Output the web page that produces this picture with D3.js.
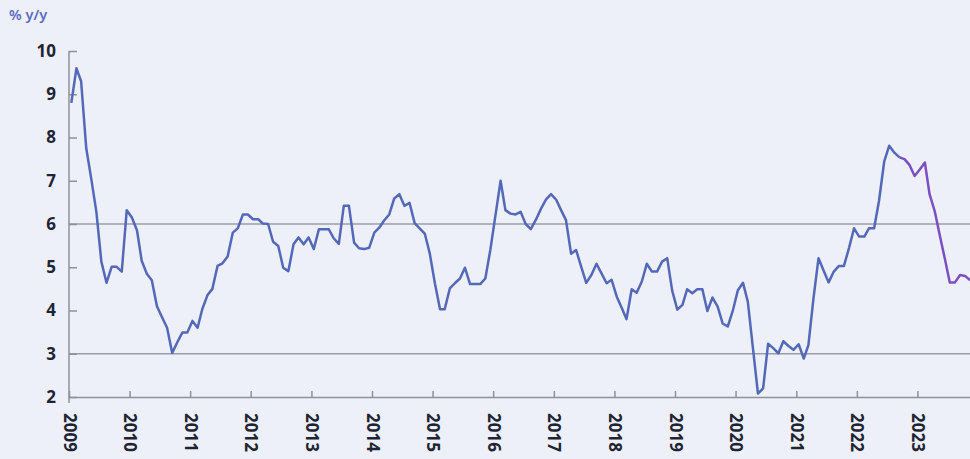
<!DOCTYPE html>
<html>
<head>
<meta charset="utf-8">
<script src="https://cdn.jsdelivr.net/npm/d3@7"></script>
<style>
  body { margin: 0; background: #edf0f8; }
  svg { display: block; }
  .tick text { font-family: "Noto Sans", sans-serif; font-weight: 700; font-size: 17px; fill: #1e2433; }
</style>
</head>
<body>
<svg id="chart" width="970" height="459"></svg>
<script>
// monthly % y/y, Jan 2009 .. Sep 2022 (actual)
const actual = [
  8.8, 9.6, 9.3, 7.75, 7.05, 6.28, 5.13, 4.64, 5.01, 5.01, 4.9, 6.32,
  6.15, 5.85, 5.15, 4.85, 4.7, 4.1, 3.85, 3.6, 3.02, 3.26, 3.49, 3.49,
  3.76, 3.6, 4.03, 4.35, 4.5, 5.03, 5.09, 5.25, 5.8, 5.9, 6.22, 6.22,
  6.11, 6.11, 6.01, 6.0, 5.59, 5.49, 4.99, 4.91, 5.53, 5.69, 5.53, 5.69,
  5.42, 5.88, 5.88, 5.88, 5.67, 5.54, 6.42, 6.42, 5.57, 5.44, 5.42, 5.45,
  5.8, 5.92, 6.08, 6.22, 6.59, 6.69, 6.42, 6.49, 6.02, 5.9, 5.78, 5.32,
  4.63, 4.03, 4.03, 4.51, 4.63, 4.74, 4.99, 4.61, 4.61, 4.61, 4.74, 5.4,
  6.2, 7.0, 6.32, 6.24, 6.22, 6.28, 6.0, 5.88, 6.1, 6.35, 6.57, 6.69,
  6.56, 6.31, 6.09, 5.31, 5.4, 5.01, 4.64, 4.82, 5.08, 4.86, 4.63, 4.71,
  4.32, 4.05, 3.8, 4.49, 4.41, 4.67, 5.08, 4.9, 4.9, 5.13, 5.21, 4.46,
  4.02, 4.13, 4.49, 4.4, 4.49, 4.49, 3.99, 4.3, 4.09, 3.7, 3.63, 3.99,
  4.47, 4.64, 4.2, 3.12, 2.08, 2.2, 3.23, 3.13, 3.01, 3.29, 3.18, 3.09,
  3.22, 2.89, 3.2, 4.3, 5.21, 4.92, 4.65, 4.9, 5.03, 5.03, 5.45, 5.9,
  5.71, 5.71, 5.9, 5.9, 6.55, 7.45, 7.81, 7.65, 7.54
];
// Sep 2022 .. Nov 2023
const forecast = [7.54, 7.5, 7.36, 7.11, 7.26, 7.42, 6.69, 6.3, 5.75, 5.2, 4.65, 4.65, 4.82, 4.8, 4.7];
const forecastStart = actual.length - 1;

const years = d3.range(2009, 2024);
const yTicks = [2, 3, 4, 5, 6, 7, 8, 9, 10];
const gridValues = [3, 6];

const svg = d3.select("#chart");
const plotLeft = 69, plotRight = 978, plotTop = 51, plotBottom = 397;

const x = d3.scaleUtc()
  .domain([Date.UTC(2009, 0, 1), Date.UTC(2024, 0, 1)])
  .range([plotLeft, plotRight]);
const y = d3.scaleLinear().domain([2, 10]).range([plotBottom, plotTop]);

const monthDate = i => Date.UTC(2009, i, 15);

// title
svg.append("text")
  .attr("x", 9).attr("y", 20)
  .attr("font-family", "Noto Sans, sans-serif")
  .attr("font-size", 14.5).attr("font-weight", 600)
  .attr("fill", "#5b6cc0")
  .text("% y/y");

// grid lines
svg.append("g").selectAll("line")
  .data(gridValues)
  .enter().append("line")
  .attr("x1", plotLeft).attr("x2", 970)
  .attr("y1", d => y(d)).attr("y2", d => y(d))
  .attr("stroke", "#9a9ca7").attr("stroke-width", 1.5);

// y axis
const yAxis = svg.append("g")
  .attr("transform", "translate(" + plotLeft + ",0)")
  .call(d3.axisLeft(y).tickValues(yTicks).tickSizeInner(-8).tickSizeOuter(0).tickPadding(13));
yAxis.select(".domain").remove();
yAxis.selectAll(".tick line").attr("stroke", "#8e909b").attr("stroke-width", 1.5);
svg.append("line")
  .attr("x1", plotLeft).attr("x2", plotLeft)
  .attr("y1", plotTop).attr("y2", plotBottom + 6)
  .attr("stroke", "#8e909b").attr("stroke-width", 1.5);

// x axis
const xAxis = svg.append("g")
  .attr("transform", "translate(0," + plotBottom + ")")
  .call(d3.axisBottom(x)
    .tickValues(years.map(d => Date.UTC(d, 0, 1)))
    .tickFormat(d => new Date(d).getUTCFullYear())
    .tickSizeInner(-6).tickSizeOuter(0));
xAxis.select(".domain").attr("stroke", "#8e909b").attr("stroke-width", 1.5);
xAxis.selectAll(".tick line").attr("stroke", "#8e909b").attr("stroke-width", 1.5);
xAxis.selectAll(".tick text")
  .attr("y", 0).attr("x", 16).attr("dy", "0.35em")
  .attr("transform", "rotate(90)")
  .style("text-anchor", "start");

const line = d3.line()
  .x(d => x(monthDate(d.i)))
  .y(d => y(d.v));

svg.append("path")
  .datum(actual.map((v, i) => ({ i: i, v: v })))
  .attr("fill", "none")
  .attr("stroke", "#5468b8")
  .attr("stroke-width", 2.5)
  .attr("stroke-linejoin", "round")
  .attr("d", line);

svg.append("path")
  .datum(forecast.map((v, k) => ({ i: forecastStart + k, v: v })))
  .attr("fill", "none")
  .attr("stroke", "#7b4fc0")
  .attr("stroke-width", 2.5)
  .attr("stroke-linejoin", "round")
  .attr("d", line);
</script>
</body>
</html>
